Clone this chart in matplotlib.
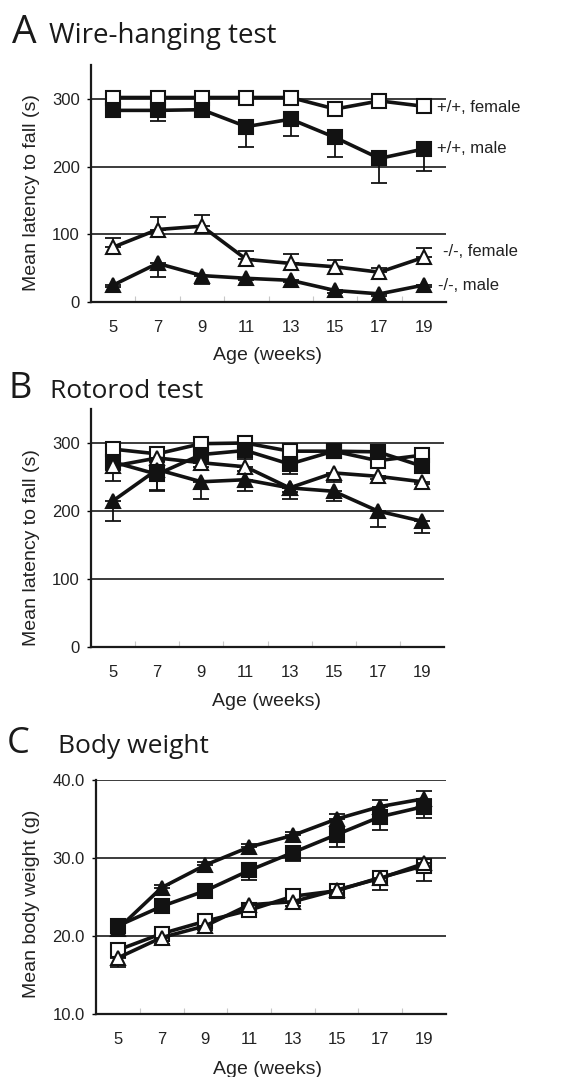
import matplotlib
matplotlib.use("Agg")
import matplotlib.pyplot as plt
import numpy as np

plt.rcParams['font.family'] = ['Liberation Sans', 'DejaVu Sans']

weeks = [5, 7, 9, 11, 13, 15, 17, 19]

# ---- Panel A: wire-hanging test (s) ----
wh_wt_f = [302, 302, 302, 302, 302, 285, 297, 289]
wh_wt_f_err = [3, 3, 3, 3, 3, 9, 3, 3]
wh_wt_m = [283, 283, 284, 259, 270, 243, 212, 226]
wh_wt_m_err = [5, 15, 11, 30, 25, 29, 36, 32]
wh_ko_f = [81, 107, 112, 63, 57, 52, 44, 66]
wh_ko_f_err = [14, 18, 16, 12, 14, 10, 6, 14]
wh_ko_m = [25, 57, 39, 35, 32, 17, 12, 25]
wh_ko_m_err = [3, 20, 12, 3, 3, 3, 3, 3]

# ---- Panel B: rotorod test (s) ----
rr_wt_f = [291, 284, 299, 300, 288, 288, 274, 282]
rr_wt_f_err = [4, 4, 4, 4, 4, 4, 4, 4]
rr_wt_m = [272, 254, 283, 289, 269, 288, 287, 266]
rr_wt_m_err = [28, 24, 12, 13, 15, 5, 5, 6]
rr_ko_f = [266, 278, 271, 265, 234, 256, 251, 243]
rr_ko_f_err = [6, 6, 6, 6, 6, 14, 4, 4]
rr_ko_m = [215, 261, 243, 246, 234, 229, 200, 185]
rr_ko_m_err = [30, 30, 26, 16, 17, 14, 24, 17]

# ---- Panel C: body weight (g) ----
bw_wt_f = [18.2, 20.3, 21.9, 23.3, 25.1, 25.8, 27.5, 29.0]
bw_wt_f_err = [0.6, 0.6, 0.5, 0.6, 0.6, 0.6, 1.6, 1.9]
bw_wt_m = [21.3, 23.8, 25.8, 28.4, 30.7, 33.0, 35.3, 36.6]
bw_wt_m_err = [0.5, 0.5, 0.6, 1.2, 1.1, 1.6, 1.7, 1.5]
bw_ko_f = [17.2, 19.8, 21.3, 24.0, 24.4, 25.9, 27.4, 29.3]
bw_ko_f_err = [1.2, 0.8, 0.5, 0.5, 0.5, 0.5, 0.5, 0.5]
bw_ko_m = [20.9, 26.2, 29.1, 31.4, 32.9, 35.0, 36.6, 37.6]
bw_ko_m_err = [0.4, 0.4, 0.4, 0.4, 0.4, 0.6, 0.9, 1.0]

series_labels = ['+/+, female', '+/+, male', '-/-, female', '-/-, male']

W, H = 566, 1077
fig = plt.figure(figsize=(W / 100, H / 100), dpi=100)

def rect(l, r, b, t):
    return [l / W, 1 - b / H, (r - l) / W, (b - t) / H]

LC = '#121212'

def draw(ax, data, sides, ylim, yticks, yfmt, grid_vals):
    styles = [('s', 'white'), ('s', LC), ('^', 'white'), ('^', LC)]
    order = [3, 2, 1, 0]
    for i in order:
        mean, err = data[i]
        mk, fc = styles[i]
        err = np.array(err)
        zeros = np.zeros_like(err)
        yerr = [err, zeros] if sides[i] == 'lower' else [zeros, err]
        ax.errorbar(weeks, mean, yerr=yerr, fmt='none', ecolor=LC,
                    elinewidth=1.3, capsize=5.5, capthick=1.3, zorder=3 + i)
        ax.plot(weeks, mean, color=LC, lw=2.6, marker=mk,
                ms=9.5 if mk == 's' else 10, mfc=fc, mec=LC, mew=1.5,
                zorder=3 + i, clip_on=False)
    for g in grid_vals:
        ax.axhline(g, color='#1a1a1a', lw=1.2, zorder=1)
    ax.set_xlim(4, 20)
    ax.set_ylim(*ylim)
    ax.set_yticks(yticks)
    ax.set_yticklabels([yfmt.format(v) for v in yticks])
    ax.set_xticks(np.arange(6, 20, 2))
    ax.set_xticklabels([])
    ax.set_xticks(weeks, minor=True)
    ax.set_xticklabels([str(w) for w in weeks], minor=True)
    ax.tick_params(axis='x', which='major', direction='in', length=4,
                   width=0.8, color='#c8c8c8')
    ax.tick_params(axis='x', which='minor', length=0, pad=13,
                   labelsize=12, labelcolor='#222222')
    ax.tick_params(axis='y', direction='out', length=3, width=1,
                   pad=5, labelsize=12, labelcolor='#222222')
    for s in ['top', 'right']:
        ax.spines[s].set_visible(False)
    for s in ['left', 'bottom']:
        ax.spines[s].set_linewidth(1.6)
        ax.spines[s].set_color('#1a1a1a')
    ax.set_xlabel('Age (weeks)', fontsize=14, color='#222222')

# Panel A
axA = fig.add_axes(rect(91, 446, 302, 65))
draw(axA, [(wh_wt_f, wh_wt_f_err), (wh_wt_m, wh_wt_m_err),
           (wh_ko_f, wh_ko_f_err), (wh_ko_m, wh_ko_m_err)],
     ['upper', 'lower', 'upper', 'lower'], (0, 350), [0, 100, 200, 300],
     '{:d}', [100, 200, 300])
axA.set_ylabel('Mean latency to fall (s)', fontsize=14, color='#222222')
axA.yaxis.set_label_coords(-0.144, 0.46)
axA.xaxis.set_label_coords(0.496, -0.19)
lab_pos = [(19.6, 287), (19.6, 226), (19.85, 74), (19.65, 25)]
for (lx, ly), txt in zip(lab_pos, series_labels):
    axA.text(lx, ly, txt, fontsize=12, va='center', ha='left',
             color='#222222', clip_on=False)

# Panel B
axB = fig.add_axes(rect(91, 444, 647, 409))
draw(axB, [(rr_wt_f, rr_wt_f_err), (rr_wt_m, rr_wt_m_err),
           (rr_ko_f, rr_ko_f_err), (rr_ko_m, rr_ko_m_err)],
     ['lower', 'lower', 'lower', 'lower'], (0, 350), [0, 100, 200, 300],
     '{:d}', [100, 200, 300])
axB.set_ylabel('Mean latency to fall (s)', fontsize=14, color='#222222')
axB.yaxis.set_label_coords(-0.144, 0.416)
axB.xaxis.set_label_coords(0.496, -0.193)

# Panel C
axC = fig.add_axes(rect(96, 446, 1014, 780))
draw(axC, [(bw_wt_f, bw_wt_f_err), (bw_wt_m, bw_wt_m_err),
           (bw_ko_f, bw_ko_f_err), (bw_ko_m, bw_ko_m_err)],
     ['lower', 'lower', 'lower', 'upper'], (10, 40), [10, 20, 30, 40],
     '{:.1f}', [20, 30, 40])
axC.set_ylabel('Mean body weight (g)', fontsize=14, color='#222222')
axC.yaxis.set_label_coords(-0.16, 0.47)
axC.xaxis.set_label_coords(0.49, -0.20)

# Titles
def ftext(x, y, s, size):
    fig.text(x / W, 1 - y / H, s, fontsize=size, va='baseline', ha='left',
             family=['Open Sans', 'DejaVu Sans'], color='#1a1a1a')

ftext(12, 43, 'A', 28)
ftext(49, 43, 'Wire-hanging test', 20)
ftext(8, 398, 'B', 26)
ftext(50, 398, 'Rotorod test', 19)
ftext(7, 753, 'C', 26)
ftext(58, 753, 'Body weight', 19)

fig.savefig('out.png', dpi=100)
